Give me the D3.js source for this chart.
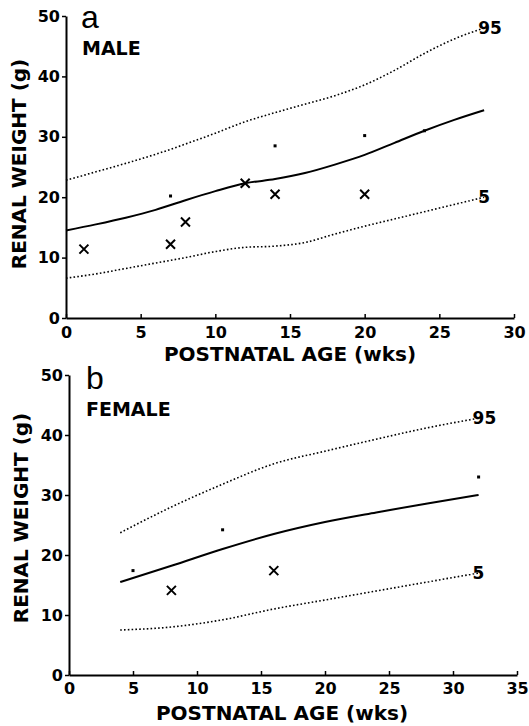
<!DOCTYPE html>
<html>
<head>
<meta charset="utf-8">
<script src="https://cdn.jsdelivr.net/npm/d3@7"></script>
<style>
  body { margin: 0; background: #fff; }
  svg { display: block; font-family: "DejaVu Sans", sans-serif; }
  .axis path, .axis line { stroke: #000; }
  .axis path { stroke-width: 2; }
  .axis line { stroke-width: 1.5; }
  .axis text { font-size: 16px; font-weight: bold; fill: #000; font-family: "DejaVu Sans", sans-serif; }
</style>
</head>
<body>
<script>
// panel a: male
var maleAge = [0, 2, 4, 6, 8, 10, 12, 14, 16, 18, 20, 22, 24, 26, 28];
var male50 = [14.5, 15.5, 16.6, 17.9, 19.5, 21.0, 22.3, 23.0, 24.0, 25.4, 27.0, 29.0, 31.0, 32.8, 34.4];
var male95 = [22.8, 24.2, 25.6, 27.1, 28.8, 30.6, 32.5, 34.0, 35.4, 36.8, 38.6, 41.0, 43.8, 46.2, 48.0];
var male5 = [6.6, 7.3, 8.2, 9.1, 10.0, 11.0, 11.7, 11.9, 12.5, 13.9, 15.2, 16.4, 17.6, 18.8, 20.0];
var maleCrossAge = [1.2, 7, 8, 12, 14, 20];
var maleCrossWt = [11.4, 12.2, 15.9, 22.3, 20.5, 20.5];
var maleDotAge = [7, 14, 20, 24];
var maleDotWt = [20.2, 28.5, 30.2, 31.0];
var maleXTicks = [0, 5, 10, 15, 20, 25, 30];

// panel b: female
var femaleAge = [4, 8, 12, 16, 20, 24, 28, 32];
var female50 = [15.5, 18.2, 21.0, 23.5, 25.5, 27.1, 28.6, 30.0];
var female95 = [23.7, 28.0, 31.8, 35.2, 37.3, 39.3, 41.2, 42.8];
var female5 = [7.5, 8.0, 9.2, 11.0, 12.5, 14.0, 15.5, 17.0];
var femaleCrossAge = [8, 16];
var femaleCrossWt = [14.1, 17.4];
var femaleDotAge = [5, 12, 32];
var femaleDotWt = [17.4, 24.2, 33.0];
var femaleXTicks = [0, 5, 10, 15, 20, 25, 30, 35];

var yTicks = [0, 10, 20, 30, 40, 50];

var svg = d3.select("body").append("svg")
  .attr("width", 529)
  .attr("height", 726);

function drawPanel(p) {
  let x = d3.scaleLinear().domain([0, p.xMax]).range(p.xRange);
  let y = d3.scaleLinear().domain([0, 50]).range(p.yRange);
  let g = svg.append("g");

  let line = d3.line()
    .x(d => x(d[0]))
    .y(d => y(d[1]))
    .curve(d3.curveMonotoneX);

  g.append("g").attr("class", "axis")
    .attr("transform", `translate(${x(0)},0)`)
    .call(d3.axisLeft(y).tickValues(yTicks).tickSizeInner(4).tickSizeOuter(0).tickPadding(2));

  g.append("g").attr("class", "axis")
    .attr("transform", `translate(0,${y(0)})`)
    .call(d3.axisBottom(x).tickValues(p.xTicks).tickSizeInner(-4).tickSizeOuter(0).tickPadding(p.xPad));

  let curves = [
    {vals: p.v95, dash: "1.6 2.2", w: 1.6, label: "95"},
    {vals: p.v5, dash: "1.6 2.2", w: 1.6, label: "5"},
    {vals: p.v50, dash: null, w: 2, label: null}
  ];
  curves.forEach(c => {
    let pts = p.age.map((a, i) => [a, c.vals[i]]);
    g.append("path")
      .attr("d", line(pts))
      .attr("fill", "none")
      .attr("stroke", "#000")
      .attr("stroke-width", c.w)
      .attr("stroke-dasharray", c.dash);
    if (c.label) {
      let last = pts[pts.length - 1];
      g.append("text")
        .attr("x", x(last[0]) - 6)
        .attr("y", y(last[1]))
        .attr("dy", "0.36em")
        .attr("font-size", 17)
        .attr("font-weight", "bold")
        .text(c.label);
    }
  });

  // crosses
  g.selectAll(null)
    .data(p.crossAge.map((a, i) => [a, p.crossWt[i]]))
    .enter().append("path")
    .attr("d", d => {
      let cx = x(d[0]), cy = y(d[1]), s = 4.5;
      return `M${cx - s},${cy - s}L${cx + s},${cy + s}M${cx - s},${cy + s}L${cx + s},${cy - s}`;
    })
    .attr("stroke", "#000")
    .attr("stroke-width", 2);

  // small dots
  g.selectAll(null)
    .data(p.dotAge.map((a, i) => [a, p.dotWt[i]]))
    .enter().append("rect")
    .attr("x", d => x(d[0]) - 1.5)
    .attr("y", d => y(d[1]) - 1.5)
    .attr("width", 3)
    .attr("height", 3)
    .attr("fill", "#000");

  // titles
  g.append("text")
    .attr("x", p.letterX).attr("y", p.letterY)
    .attr("font-family", "Liberation Sans, sans-serif")
    .attr("font-size", 32)
    .text(p.letter);
  g.append("text")
    .attr("x", p.nameX).attr("y", p.nameY)
    .attr("font-size", 19).attr("font-weight", "bold")
    .text(p.name);
  g.append("text")
    .attr("x", p.xTitleX).attr("y", p.xTitleY)
    .attr("text-anchor", "middle")
    .attr("font-size", 20).attr("font-weight", "bold")
    .text("POSTNATAL AGE (wks)");
  g.append("text")
    .attr("transform", `translate(${p.yTitleX},${p.yTitleY}) rotate(-90)`)
    .attr("text-anchor", "middle")
    .attr("font-size", 20).attr("font-weight", "bold")
    .text("RENAL WEIGHT (g)");
}

drawPanel({
  xMax: 30, xRange: [66, 514], yRange: [318, 16], xTicks: maleXTicks, xPad: 9,
  age: maleAge, v50: male50, v95: male95, v5: male5,
  crossAge: maleCrossAge, crossWt: maleCrossWt, dotAge: maleDotAge, dotWt: maleDotWt,
  letter: "a", letterX: 81, letterY: 28, name: "MALE", nameX: 82, nameY: 55,
  xTitleX: 290, xTitleY: 361, yTitleX: 26, yTitleY: 164
});

drawPanel({
  xMax: 35, xRange: [69, 517], yRange: [675, 375], xTicks: femaleXTicks, xPad: 8,
  age: femaleAge, v50: female50, v95: female95, v5: female5,
  crossAge: femaleCrossAge, crossWt: femaleCrossWt, dotAge: femaleDotAge, dotWt: femaleDotWt,
  letter: "b", letterX: 86, letterY: 389, name: "FEMALE", nameX: 86, nameY: 416,
  xTitleX: 282, xTitleY: 720, yTitleX: 28, yTitleY: 518
});
</script>
</body>
</html>
